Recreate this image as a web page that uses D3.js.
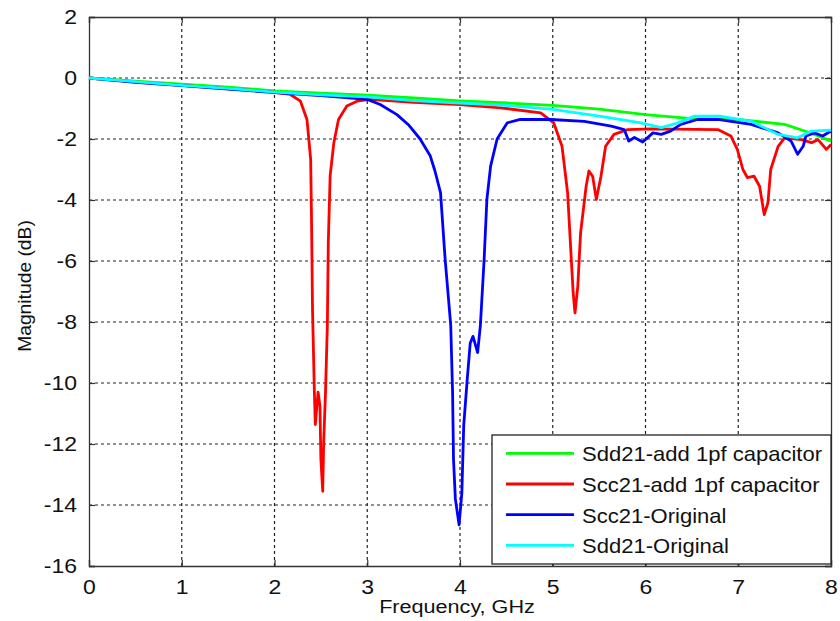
<!DOCTYPE html>
<html>
<head>
<meta charset="utf-8">
<script src="https://cdn.jsdelivr.net/npm/d3@7"></script>
<style>
  html, body { margin: 0; padding: 0; background: #fff; }
  svg { display: block; }
  text { font-family: "Liberation Sans", Arial, Helvetica, sans-serif; fill: #111; }
</style>
</head>
<body>
<svg id="chart" width="840" height="621"></svg>
<script>
// ---- Data ----
const seriesNames = ["Sdd21-add 1pf capacitor", "Scc21-add 1pf capacitor", "Scc21-Original", "Sdd21-Original"];
const seriesColors = ["#00ff00", "#ff0000", "#0000ff", "#00ffff"];

const xTicks = [0, 1, 2, 3, 4, 5, 6, 7, 8];
const yTicks = [2, 0, -2, -4, -6, -8, -10, -12, -14, -16];

const sddAddFreq = [0,0.5,1,1.5,2,2.5,3,3.5,4,4.5,5,5.5,6,6.5,7,7.5,7.7,7.85,8];
const sddAddMag  = [0,-0.1,-0.2,-0.3,-0.42,-0.5,-0.56,-0.65,-0.75,-0.82,-0.9,-1.02,-1.2,-1.33,-1.36,-1.52,-1.72,-1.88,-2.07];

const sccAddFreq = [0,0.5,1,1.5,1.95,2.17,2.28,2.35,2.39,2.40,2.41,2.43,2.44,2.47,2.49,2.50,2.52,2.53,2.55,2.57,2.58,2.60,2.64,2.69,2.78,2.89,3.03,3.5,4.0,4.44,4.87,5.01,5.10,5.16,5.19,5.22,5.24,5.27,5.30,5.36,5.39,5.43,5.47,5.52,5.57,5.66,5.81,6.06,6.78,6.92,6.99,7.05,7.10,7.17,7.23,7.28,7.32,7.35,7.43,7.50,7.68,7.79,7.86,7.95,8.0];
const sccAddMag  = [0,-0.13,-0.24,-0.35,-0.45,-0.54,-0.76,-1.36,-2.67,-4.86,-7.6,-10.3,-11.36,-10.3,-10.76,-12.5,-13.55,-11.95,-10.3,-8.1,-5.4,-3.2,-2.12,-1.36,-0.92,-0.76,-0.7,-0.8,-0.87,-0.98,-1.14,-1.47,-2.24,-3.76,-5.4,-7.04,-7.7,-6.83,-5.08,-3.55,-3.05,-3.22,-3.98,-3.22,-2.24,-1.85,-1.69,-1.67,-1.69,-1.9,-2.34,-3.0,-3.27,-3.22,-3.55,-4.48,-4.09,-3.0,-2.24,-1.96,-2.02,-2.12,-2.02,-2.34,-2.18];

const sccOrigFreq = [0,0.5,1,1.5,2,2.5,2.8,3.0,3.14,3.32,3.45,3.57,3.68,3.73,3.79,3.84,3.90,3.92,3.93,3.95,3.99,4.02,4.04,4.08,4.11,4.14,4.19,4.22,4.26,4.29,4.33,4.40,4.51,4.65,4.98,5.34,5.63,5.77,5.82,5.88,5.97,6.08,6.17,6.27,6.38,6.56,6.78,7.14,7.43,7.57,7.64,7.7,7.73,7.82,7.91,8.0];
const sccOrigMag  = [0,-0.14,-0.25,-0.36,-0.48,-0.58,-0.65,-0.7,-0.87,-1.2,-1.55,-2.0,-2.56,-3.05,-3.76,-5.95,-8.1,-10.3,-12.5,-13.8,-14.65,-13.6,-11.4,-9.8,-8.7,-8.47,-9.0,-8.1,-5.95,-3.98,-2.89,-2.0,-1.47,-1.36,-1.36,-1.42,-1.58,-1.69,-2.07,-1.95,-2.1,-1.8,-1.85,-1.74,-1.52,-1.36,-1.36,-1.52,-1.8,-2.07,-2.5,-2.24,-1.9,-1.8,-1.9,-1.74];

const sddOrigFreq = [0,0.5,1,1.5,2,2.5,3,3.5,4,4.5,5,5.5,5.95,6.17,6.35,6.53,6.8,7.14,7.43,7.64,7.79,8];
const sddOrigMag  = [0,-0.12,-0.24,-0.34,-0.46,-0.55,-0.62,-0.74,-0.82,-0.9,-1.03,-1.25,-1.47,-1.63,-1.47,-1.25,-1.25,-1.42,-1.85,-1.96,-1.74,-1.71];

const seriesFreq = [sddAddFreq, sccAddFreq, sccOrigFreq, sddOrigFreq];
const seriesMag  = [sddAddMag, sccAddMag, sccOrigMag, sddOrigMag];

// ---- Layout ----
const L = 89, R = 831, T = 17, B = 566;
const svg = d3.select("#chart");

const x = d3.scaleLinear().domain([0, 8]).range([L, R]);
const y = d3.scaleLinear().domain([-16, 2]).range([B, T]);

// grid
const grid = svg.append("g");
grid.selectAll("line.vx").data(xTicks.slice(1, -1)).join("line")
  .attr("x1", d => x(d)).attr("x2", d => x(d)).attr("y1", T).attr("y2", B)
  .attr("stroke", "#222").attr("stroke-width", 1.2).attr("stroke-dasharray", "3,3");
grid.selectAll("line.hy").data(yTicks.slice(1, -1)).join("line")
  .attr("y1", d => y(d)).attr("y2", d => y(d)).attr("x1", L).attr("x2", R)
  .attr("stroke", "#222").attr("stroke-width", 1.2).attr("stroke-dasharray", "3,3");

// axes with inward ticks
const fmt = d => d3.format("d")(d).replace("−", "-");
const xAxisB = svg.append("g").attr("transform", `translate(0,${B})`)
  .call(d3.axisBottom(x).tickValues(xTicks).tickSize(-6).tickPadding(14).tickFormat(fmt));
const xAxisT = svg.append("g").attr("transform", `translate(0,${T})`)
  .call(d3.axisTop(x).tickValues(xTicks).tickSize(-6).tickFormat(""));
const yAxisL = svg.append("g").attr("transform", `translate(${L},0)`)
  .call(d3.axisLeft(y).tickValues(yTicks).tickSize(-6).tickPadding(12).tickFormat(fmt));
const yAxisR = svg.append("g").attr("transform", `translate(${R},0)`)
  .call(d3.axisRight(y).tickValues(yTicks).tickSize(-6).tickFormat(""));

[xAxisB, xAxisT, yAxisL, yAxisR].forEach(g => {
  g.select(".domain").attr("stroke", "#333").attr("stroke-width", 1.3);
  g.selectAll(".tick line").attr("stroke", "#333").attr("stroke-width", 1.2);
  g.selectAll("text").attr("font-size", 20).attr("fill", "#111")
    .attr("font-family", "Liberation Sans, Arial, sans-serif");
});
xAxisB.selectAll("text").attr("dy", "0.71em");

// series lines
const line = d3.line().x(d => x(d[0])).y(d => y(d[1]));
const plot = svg.append("g");
seriesNames.forEach((name, i) => {
  const pts = seriesFreq[i].map((f, j) => [f, seriesMag[i][j]]);
  plot.append("path").datum(pts)
    .attr("d", line)
    .attr("fill", "none")
    .attr("stroke", seriesColors[i])
    .attr("stroke-width", 2.8)
    .attr("stroke-linejoin", "round");
});

// axis titles
svg.append("text").attr("x", 457).attr("y", 613).attr("text-anchor", "middle")
  .attr("font-size", 18).attr("class", "stretch").text("Frequency, GHz");
svg.append("text").attr("transform", "translate(31,286) rotate(-90)")
  .attr("text-anchor", "middle").attr("font-size", 18).attr("class", "stretch2")
  .text("Magnitude (dB)");

// legend
const lg = svg.append("g");
lg.append("rect").attr("x", 492).attr("y", 435).attr("width", 339).attr("height", 129)
  .attr("fill", "#fff").attr("stroke", "#222").attr("stroke-width", 1.3);
seriesNames.forEach((name, i) => {
  const cy = 453.3 + i * 30.7;
  lg.append("line").attr("x1", 506).attr("x2", 574).attr("y1", cy).attr("y2", cy)
    .attr("stroke", seriesColors[i]).attr("stroke-width", 2.8);
  lg.append("text").attr("x", 582).attr("y", cy + 8).attr("font-size", 21)
    .attr("class", "legtext").text(name);
});

// horizontal stretch to mimic the reference's wide glyphs
svg.selectAll(".tick text").each(function() {
  const w = this.getComputedTextLength();
  if (w > 0) d3.select(this).attr("textLength", w * 1.15).attr("lengthAdjust", "spacingAndGlyphs");
});
svg.selectAll("text.stretch").each(function() {
  const w = this.getComputedTextLength();
  d3.select(this).attr("textLength", w * 1.2).attr("lengthAdjust", "spacingAndGlyphs");
});
svg.selectAll("text.stretch2").each(function() {
  const w = this.getComputedTextLength();
  d3.select(this).attr("textLength", w * 1.07).attr("lengthAdjust", "spacingAndGlyphs");
});
const legNodes = svg.selectAll("text.legtext").nodes();
const legScale = 240 / legNodes[0].getComputedTextLength();
legNodes.forEach(n => {
  const w = n.getComputedTextLength();
  d3.select(n).attr("textLength", w * legScale).attr("lengthAdjust", "spacingAndGlyphs");
});
</script>
</body>
</html>
